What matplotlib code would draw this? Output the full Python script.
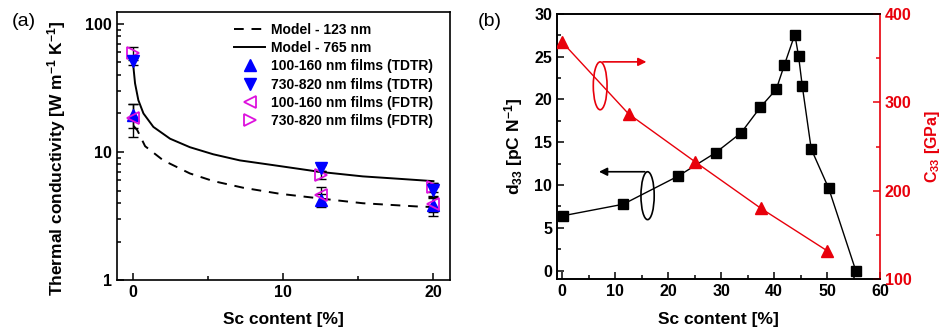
import numpy as np
import matplotlib
matplotlib.use("Agg")
import matplotlib.pyplot as plt
from matplotlib.patches import Ellipse
from matplotlib.ticker import MultipleLocator, FixedLocator, FormatStrFormatter, LogLocator, NullFormatter

plt.rcParams['font.family'] = ['Liberation Sans', 'DejaVu Sans']
plt.rcParams['font.weight'] = 'bold'
plt.rcParams['mathtext.fontset'] = 'custom'
plt.rcParams['mathtext.bf'] = 'Liberation Sans:bold'
plt.rcParams['mathtext.rm'] = 'Liberation Sans:bold'
plt.rcParams['mathtext.default'] = 'bf'

# ---- panel (a): thermal conductivity vs Sc content ----
model_123_x = [0.05, 0.3, 0.82, 2.03, 3.8, 5.35, 7.34, 9.77, 12.65, 15.3, 18.84, 19.9]
model_123_y = [16.0, 14.8, 11.1, 8.6, 6.8, 5.93, 5.26, 4.72, 4.31, 3.98, 3.76, 3.72]
model_765_x = [0.04, 0.15, 0.37, 0.71, 1.37, 2.48, 3.8, 5.35, 7.12, 9.33, 12.43, 15.3, 17.5, 20.0]
model_765_y = [46.4, 34.4, 25.4, 20.0, 15.7, 12.7, 10.9, 9.6, 8.6, 7.9, 7.0, 6.45, 6.2, 5.92]

sc_films = [0, 12.5, 20]
tdtr_thin = [19.5, 4.2, 3.83]
tdtr_thin_err = [4.0, 0.5, 0.67]
tdtr_thick = [51.0, 7.55, 5.07]
tdtr_thick_err = [3.4, 0.4, 0.63]
fdtr_thin = [18.4, 4.6, 3.9]
fdtr_thin_err = [5.2, 0.7, 0.5]
fdtr_thick = [59.0, 6.6, 5.3]
fdtr_thick_err = [6.5, 0.5, 0.4]

# ---- panel (b): d33 and C33 vs Sc content ----
sc_d33 = [0.1, 11.5, 21.9, 29.0, 33.75, 37.4, 40.4, 41.9, 43.9, 44.6, 45.3, 47.0, 50.3, 55.4]
d33 = [6.4, 7.75, 11.05, 13.8, 16.1, 19.1, 21.2, 24.0, 27.6, 25.1, 21.6, 14.2, 9.6, 0.0]
sc_c33 = [0, 12.5, 25, 37.5, 50]
c33 = [368, 287, 233, 180, 132]

blue = '#0000ff'
magenta = '#dd11dd'
red = '#e8000b'

fig = plt.figure(figsize=(9.42, 3.33), dpi=100)
ax1 = fig.add_axes([0.1242, 0.159, 0.3535, 0.805])
ax2 = fig.add_axes([0.5913, 0.162, 0.343, 0.796])


def style_axis(ax):
    for s in ax.spines.values():
        s.set_linewidth(1.2)
    ax.tick_params(which='both', direction='in', labelsize=11.5, width=1.1)
    ax.tick_params(which='major', length=5)
    ax.tick_params(which='minor', length=3)
    for lab in ax.get_xticklabels() + ax.get_yticklabels():
        lab.set_fontweight('bold')


ax1.plot(model_123_x, model_123_y, color='k', ls=(0, (5, 4)), lw=1.4, label='Model - 123 nm')
ax1.plot(model_765_x, model_765_y, color='k', ls='-', lw=1.4, label='Model - 765 nm')

for vals, errs in [(tdtr_thin, tdtr_thin_err), (tdtr_thick, tdtr_thick_err),
                   (fdtr_thin, fdtr_thin_err), (fdtr_thick, fdtr_thick_err)]:
    ax1.errorbar(sc_films, vals, yerr=errs, fmt='none', ecolor='k', elinewidth=1, capsize=3.5, capthick=1)

ax1.plot(sc_films, fdtr_thick, ls='none', marker='>', ms=9, mfc='none', mec=magenta, mew=1.3,
         label='730-820 nm films (FDTR)')
ax1.plot(sc_films, tdtr_thin, ls='none', marker='^', ms=9, color=blue, label='100-160 nm films (TDTR)')
ax1.plot(sc_films, tdtr_thick, ls='none', marker='v', ms=9, color=blue, label='730-820 nm films (TDTR)')
ax1.plot(sc_films, fdtr_thin, ls='none', marker='<', ms=9, mfc='none', mec=magenta, mew=1.3,
         label='100-160 nm films (FDTR)')

handles, labels = ax1.get_legend_handles_labels()
order = [0, 1, 3, 4, 5, 2]
ax1.legend([handles[i] for i in order], [labels[i] for i in order], loc='upper right',
           bbox_to_anchor=(0.975, 0.99), frameon=False, labelspacing=0.3,
           handlelength=2.2, handletextpad=0.45, borderaxespad=0.2, prop={'weight': 'bold', 'size': 10})

ax1.set_yscale('log')
ax1.set_ylim(1, 124)
ax1.set_xlim(-1.05, 21.1)
ax1.xaxis.set_major_locator(FixedLocator([0, 10, 20]))
ax1.xaxis.set_minor_locator(FixedLocator([5, 15]))
ax1.yaxis.set_major_locator(FixedLocator([1, 10, 100]))
ax1.yaxis.set_major_formatter(FormatStrFormatter('%g'))
ax1.yaxis.set_minor_locator(LogLocator(base=10, subs=np.arange(2, 10)))
ax1.yaxis.set_minor_formatter(NullFormatter())
ax1.set_xlabel('Sc content [%]', fontsize=12.5, fontweight='bold')
ax1.set_ylabel('Thermal conductivity [W m$^{-1}$ K$^{-1}$]', fontsize=12.5, fontweight='bold')
ax1.xaxis.set_label_coords(0.5, -0.12)
ax1.yaxis.set_label_coords(-0.148, 0.455)
style_axis(ax1)

# panel (b)
ax2.plot(sc_d33, d33, color='k', lw=1, marker='s', ms=6.5, zorder=3)
ax2.set_xlim(-1, 60)
ax2.set_ylim(-1, 30)
ax2.xaxis.set_major_locator(MultipleLocator(10))
ax2.xaxis.set_minor_locator(MultipleLocator(5))
ax2.yaxis.set_major_locator(MultipleLocator(5))
ax2.yaxis.set_minor_locator(MultipleLocator(2.5))
ax2.set_xlabel('Sc content [%]', fontsize=12.5, fontweight='bold')
ax2.set_ylabel('d$_{33}$ [pC N$^{-1}$]', fontsize=12.5, fontweight='bold')
ax2.xaxis.set_label_coords(0.5, -0.125)
ax2.yaxis.set_label_coords(-0.098, 0.5)
style_axis(ax2)

ax3 = ax2.twinx()
ax3.plot(sc_c33, c33, color=red, lw=1, marker='^', ms=8, zorder=3)
ax3.set_ylim(100, 400)
ax3.yaxis.set_major_locator(MultipleLocator(100))
ax3.yaxis.set_minor_locator(MultipleLocator(50))
ax3.set_ylabel('C$_{33}$ [GPa]', fontsize=11.5, fontweight='bold', color=red)
ax3.yaxis.set_label_coords(1.133, 0.5)
style_axis(ax3)
ax3.spines['right'].set_color(red)
ax3.tick_params(axis='y', which='both', colors=red)
ax2.spines['right'].set_visible(False)

# oval + arrow annotations (left-axis data coords)
ax2.add_patch(Ellipse((7.15, 21.6), 2.6, 5.6, fill=False, ec=red, lw=1.2, zorder=4))
ax2.annotate('', xy=(16.4, 24.4), xytext=(7.15, 24.4),
             arrowprops=dict(arrowstyle='-|>', color=red, lw=1.2, mutation_scale=12), zorder=4)
ax2.add_patch(Ellipse((16.1, 8.75), 2.5, 5.6, fill=False, ec='k', lw=1.2, zorder=4))
ax2.annotate('', xy=(6.4, 11.55), xytext=(16.1, 11.55),
             arrowprops=dict(arrowstyle='-|>', color='k', lw=1.2, mutation_scale=12), zorder=4)

fig.text(0.012, 0.96, '(a)', fontsize=14, fontweight='normal', va='top', ha='left')
fig.text(0.507, 0.96, '(b)', fontsize=14, fontweight='normal', va='top', ha='left')

fig.savefig('out.png', dpi=100)
